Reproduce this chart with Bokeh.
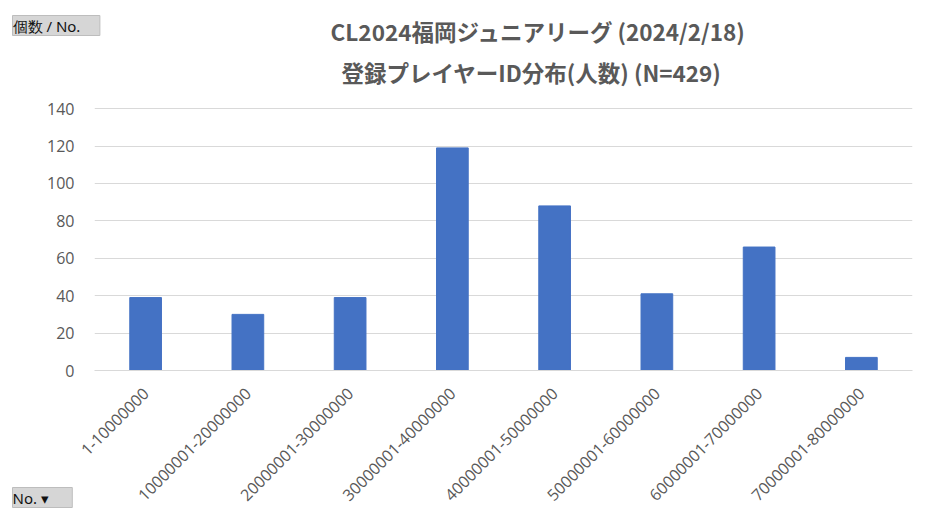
import math
from bokeh.plotting import figure
from bokeh.models import ColumnDataSource, Label, FactorRange
from bokeh.embed import file_html
from bokeh.resources import INLINE

categories = ["1-10000000", "10000001-20000000", "20000001-30000000", "30000001-40000000",
              "40000001-50000000", "50000001-60000000", "60000001-70000000", "70000001-80000000"]
counts = [39, 30, 39, 119, 88, 41, 66, 7]
title_line1 = "CL2024福岡ジュニアリーグ (2024/2/18)"
title_line2 = "登録プレイヤーID分布(人数) (N=429)"
value_button = " 個数 / No.    "
axis_button = " No.    ▾  "
y_ticks = [0, 20, 40, 60, 80, 100, 120, 140]

src = ColumnDataSource(dict(cat=categories, n=counts))

p = figure(width=936, height=520, x_range=FactorRange(*categories, range_padding=0),
           y_range=(0, 140.6), output_backend="svg", toolbar_location=None,
           min_border_left=94, min_border_right=24, min_border_top=107, min_border_bottom=150)
p.outline_line_color = None
p.vbar(x="cat", top="n", width=0.31, source=src, color="#4472C4")

gray = "#595959"
p.yaxis.ticker = y_ticks
p.yaxis.axis_line_color = None
p.yaxis.major_tick_line_color = None
p.yaxis.minor_tick_line_color = None
p.yaxis.major_label_text_color = gray
p.yaxis.major_label_text_font = "Open Sans"
p.yaxis.major_label_text_font_size = "16px"
p.yaxis.major_label_standoff = 14

p.xaxis.axis_line_color = "#d9d9d9"
p.xaxis.major_tick_line_color = None
p.xaxis.minor_tick_line_color = None
p.xaxis.major_label_text_color = gray
p.xaxis.major_label_text_font = "Open Sans"
p.xaxis.major_label_text_font_size = "16px"
p.xaxis.major_label_orientation = math.pi / 4
p.xaxis.major_label_standoff = 14

p.xgrid.grid_line_color = None
p.ygrid.grid_line_color = "#d9d9d9"

font = "Noto Sans CJK JP"
# texts outside the plot frame: labels placed in the top side panel, canvas coordinates
p.add_layout(Label(x=538, y=30, x_units="canvas", y_units="canvas", text=title_line1,
                   text_font=font, text_font_size="22.5px", text_font_style="bold",
                   text_color=gray, text_align="center", text_baseline="middle"), "above")
p.add_layout(Label(x=531, y=71, x_units="canvas", y_units="canvas", text=title_line2,
                   text_font=font, text_font_size="22.5px", text_font_style="bold",
                   text_color=gray, text_align="center", text_baseline="middle"), "above")
p.add_layout(Label(x=12, y=25, x_units="canvas", y_units="canvas", text=value_button,
                   text_font="Noto Sans", text_font_size="15px", text_color="#111111",
                   text_baseline="middle", background_fill_color="#d6d6d6",
                   border_line_color="#bdbdbd", padding=0), "above")
p.add_layout(Label(x=12, y=497, x_units="canvas", y_units="canvas", text=axis_button,
                   text_font="Noto Sans", text_font_size="15px", text_color="#111111",
                   text_baseline="middle", background_fill_color="#d6d6d6",
                   border_line_color="#bdbdbd", padding=0), "above")

open("out.html", "w").write(file_html(p, INLINE))
